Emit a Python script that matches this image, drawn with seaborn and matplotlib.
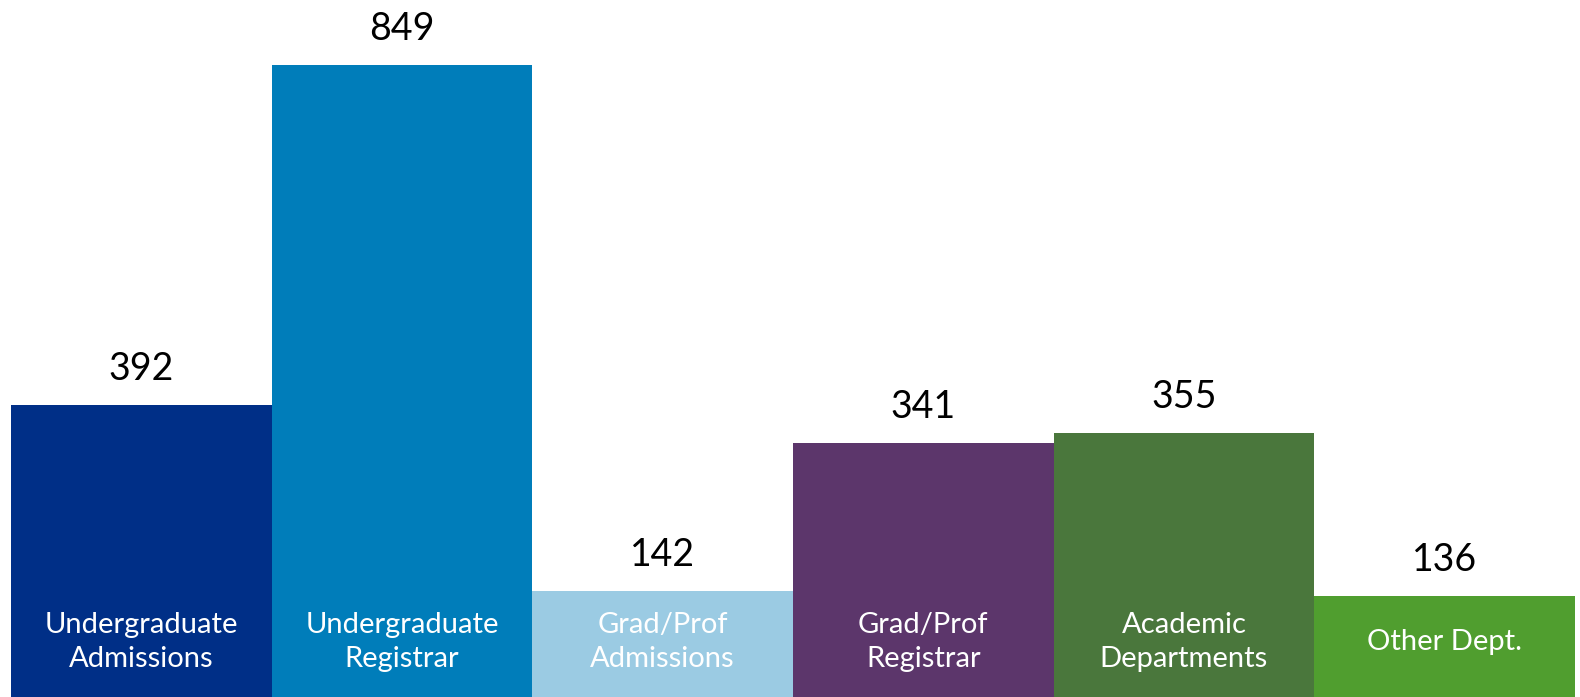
import matplotlib
matplotlib.use("Agg")
import matplotlib.pyplot as plt
import seaborn as sns
import pandas as pd

categories = ["Undergraduate\nAdmissions", "Undergraduate\nRegistrar", "Grad/Prof\nAdmissions",
              "Grad/Prof\nRegistrar", "Academic\nDepartments", "Other Dept."]
values = [392, 849, 142, 341, 355, 136]
colors = ["#002F87", "#007DBA", "#9BCBE3", "#5C366B", "#4A773C", "#509E2F"]

sns.set_theme(style="white")
plt.rcParams["font.family"] = ["Lato", "DejaVu Sans"]

df = pd.DataFrame({"category": categories, "value": values})

fig = plt.figure(figsize=(15.8, 6.97), dpi=100)
ax = fig.add_axes([11 / 1580, 0, 1564 / 1580, 1])
sns.barplot(data=df, x="category", y="value", hue="category", palette=colors,
            width=1.0, dodge=False, legend=False, ax=ax, saturation=1,
            linewidth=0, edgecolor="none")

ax.set_xlim(-0.5, len(categories) - 0.5)
ax.set_ylim(0, 936.3)
ax.axis("off")

for i, (cat, v) in enumerate(zip(categories, values)):
    ax.annotate(str(v), (i, v), xytext=(0, 26), textcoords="offset points",
                ha="center", va="center", fontsize=27, color="black")
    ax.text(i, 74, cat, ha="center", va="center", fontsize=21, color="white",
            linespacing=1.38)

fig.savefig("out.png", dpi=100)
